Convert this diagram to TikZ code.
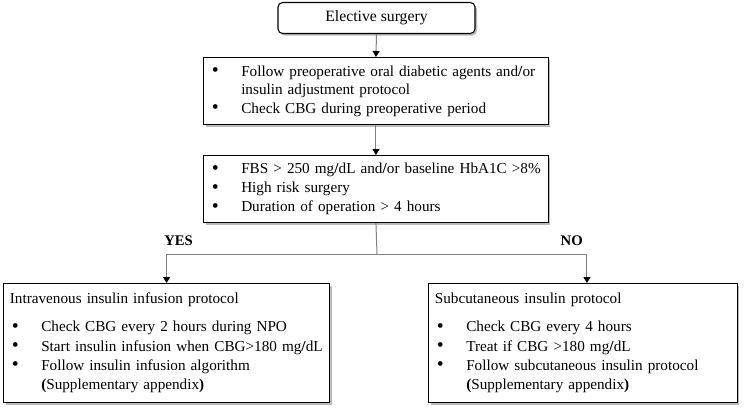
\documentclass[tikz,border=0pt]{standalone}
\usepackage{fontspec}
\usepackage{graphicx}
\setmainfont{Liberation Serif}
\usetikzlibrary{arrows.meta,shadows}
\newcommand{\bul}[1]{\hangindent=23.5pt\hangafter=1\makebox[23.5pt][l]{\hspace{1.5pt}\raisebox{-0.4pt}{\scalebox{1.3}{\textbullet}}}#1\par}
\newcommand{\andor}{and\textbf{/}or}
\newcommand{\boxtitle}[1]{#1\par\vspace{6.5pt}}

\begin{document}
\begin{tikzpicture}[x=0.75pt,y=-0.75pt,
    box/.style={draw,line width=0.8pt,fill=white,anchor=north west,inner xsep=4.8pt,inner ysep=0pt,align=left,
      drop shadow={shadow xshift=1.5pt,shadow yshift=-1.5pt,fill=black!45,opacity=0.6},
      font=\fontsize{11.4}{13.5}\selectfont,execute at begin node={\setlength{\parskip}{0.75pt}}},
    endbox/.style={box,font=\fontsize{11.4}{14.5}\selectfont,execute at begin node={\setlength{\parskip}{0pt}}},
    lab/.style={font=\bfseries\fontsize{11}{12}\selectfont,inner sep=0pt},
    line/.style={draw=black!50,line width=0.75pt},
    link/.style={line,-{Triangle[length=4.5pt,width=5.25pt,color=black]}}]
  \useasboundingbox (0,0) rectangle (750,411);

  \node[box,anchor=center,rounded corners=3.5pt,minimum width=147.75pt,minimum height=23.25pt,align=center,
        font=\fontsize{11.8}{13}\selectfont] (start) at (376.5,18) {Elective surgery};
  \node[box,text width=249pt,minimum height=50.25pt] (prep) at (203,57)
    {\bul{Follow preoperative oral diabetic agents \andor\newline insulin adjustment protocol}%
     \bul{Check CBG during preoperative period}};
  \node[box,text width=249pt,minimum height=50.25pt] (crit) at (203,155)
    {\bul{FBS > 250 mg\textbf{/}dL \andor{} baseline HbA1C >8\%}%
     \bul{High risk surgery}%
     \bul{Duration of operation > 4 hours}};
  \node[endbox,text width=235pt,minimum height=89.25pt] (ivbox) at (3,283)
    {\boxtitle{Intravenous insulin infusion protocol}%
     \bul{Check CBG every 2 hours during NPO}%
     \bul{Start insulin infusion when CBG>180 mg\textbf{/}dL}%
     \bul{Follow insulin infusion algorithm\newline\textbf{(}Supplementary appendix\textbf{)}}};
  \node[endbox,text width=222pt,minimum height=89.25pt] (scbox) at (428,283)
    {\boxtitle{Subcutaneous insulin protocol}%
     \bul{Check CBG every 4 hours}%
     \bul{Treat if CBG >180 mg\textbf{/}dL}%
     \bul{Follow subcutaneous insulin protocol\newline\textbf{(}Supplementary appendix\textbf{)}}};

  \node[lab,anchor=west] (yes) at (164,241) {YES};
  \node[lab,anchor=east] (no) at (583,241) {NO};
  \coordinate (split) at (377,254);

  \draw[link] (start.south) -- (prep.north);
  \draw[link] (prep.south) -- (crit.north);
  \draw[line] (crit.south) -- (split);
  \draw[link] (split) -| (ivbox.north);
  \draw[link] (split) -| ([xshift=3pt]scbox.north);
\end{tikzpicture}
\end{document}
